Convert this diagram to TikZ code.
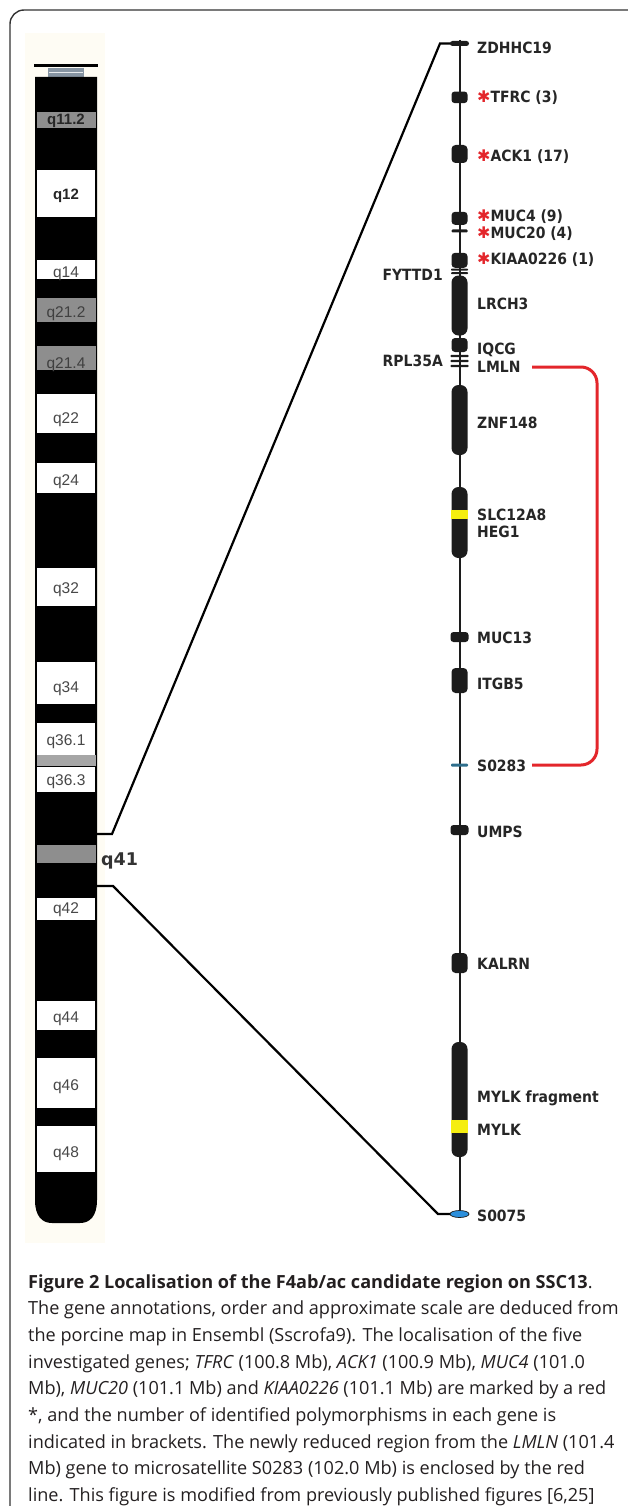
\documentclass[tikz,border=0pt]{standalone}
\usepackage{fontspec}
\usetikzlibrary{shapes.geometric}
\setmainfont{Open Sans}
\newfontfamily\genefont{DejaVu Sans}[FakeStretch=0.9]
\newfontfamily\qfont{DejaVu Sans}
\newfontfamily\bandfont{Liberation Sans}
\definecolor{genetext}{HTML}{262626}
\definecolor{blockc}{HTML}{1C1C1C}
\definecolor{ylw}{HTML}{F5EE10}
\definecolor{sa}{HTML}{2E6E8C}
\definecolor{sb}{HTML}{2B8FDC}
\definecolor{redc}{HTML}{E3262B}
\definecolor{grayband}{HTML}{8E8E8E}
\definecolor{lgrayband}{HTML}{A6A6A6}
\definecolor{cenblue}{HTML}{8795A3}
\definecolor{cream}{HTML}{FEFCF4}
\definecolor{bandtext}{HTML}{484848}
\definecolor{captext}{HTML}{231F20}
\definecolor{framec}{HTML}{333333}
\newcommand{\rstar}{{\color{redc}\qfont\fontsize{16}{16}\selectfont\raisebox{0.3pt}{✱}}}
\begin{document}
\begin{tikzpicture}[x=1pt,y=-1pt,
  gblk/.style n args={3}{rectangle, fill=blockc, draw=none, inner sep=0pt, minimum width=#1, minimum height=#2, rounded corners=#3},
  glab/.style={anchor=base west, inner sep=0pt, text=genetext, font=\genefont\bfseries\fontsize{15.5}{15.5}\selectfont},
  glabl/.style={glab, anchor=base east},
  blab/.style={anchor=base, inner sep=0pt, font=\bandfont\fontsize{15.5}{15.5}\selectfont, text=bandtext},
  bblab/.style={blab, font=\bandfont\bfseries\fontsize{15}{15}\selectfont, text=black!85},
  captline/.style={anchor=base west, inner sep=0pt, text=captext, font=\fontsize{18.1}{18.1}\selectfont},
  zoomline/.style={line width=2.2pt, black},
  redline/.style={line width=3pt, redc, rounded corners=16pt},
  whiteband/.style={fill=white, draw=black, line width=0.6pt},
  grayb/.style={fill=grayband, draw=none}
]
\useasboundingbox (0,0) rectangle (627,1506);
% frame
\draw[framec, line width=1.4pt, rounded corners=14pt] (10,1510) -- (10,10) -- (640,10);
% cream background behind chromosome
\fill[cream] (25,33) rectangle (105,1243);

% ---------- chromosome ----------
\fill[black] (34,64.5) rectangle (98,67.5);
\fill[cenblue] (48,68.5) rectangle (84,77);
\draw[white!80!cenblue, line width=0.8pt] (49,72.7) -- (83,72.7);
\fill[black] (35,77) -- (35,1200) .. controls (35,1216) and (42,1223) .. (52,1223) -- (80,1223) .. controls (90,1223) and (97,1216) .. (97,1200) -- (97,77) -- cycle;
\foreach \a/\b in {169/217, 259/279, 393/433, 462/493, 567/606, 661/704, 722/755, 766/792, 897/920, 1000/1030, 1057/1108, 1125/1172}
  \filldraw[whiteband] (36.5,\a) rectangle (95.5,\b);
\foreach \a/\b in {112/128, 298/322, 346/370, 845/863}
  \fill[grayb] (36.5,\a) rectangle (95.5,\b);
\fill[lgrayband] (36.5,755) rectangle (95.5,766);

% band labels
\node[bblab] (b112) at (66,125) {q11.2};
\node[bblab] (b12) at (66,200) {q12};
\node[blab] (b14) at (66,277.5) {q14};
\node[blab, text=black!75] (b212) at (66,317) {q21.2};
\node[blab, text=black!75] (b214) at (66,368) {q21.4};
\node[blab] (b22) at (66,423) {q22};
\node[blab] (b24) at (66,485) {q24};
\node[blab] (b32) at (66,593) {q32};
\node[blab] (b34) at (66,692) {q34};
\node[blab] (b361) at (66,745) {q36.1};
\node[blab] (b363) at (66,785) {q36.3};
\node[blab] (b42) at (66,913) {q42};
\node[blab] (b44) at (66,1022) {q44};
\node[blab] (b46) at (66,1090) {q46};
\node[blab] (b48) at (66,1157) {q48};
\node[anchor=base west, inner sep=0pt, text=black!80, font=\qfont\bfseries\fontsize{17.5}{17.5}\selectfont] (q41) at (101,865) {q41};

% ---------- gene axis ----------
\coordinate (axtop) at (459.5,40);
\coordinate (axbot) at (459.5,1214);
\draw[line width=2pt, blockc] (axtop) -- (axbot);

% zoom connectors
\coordinate (zu0) at (97,834);
\coordinate (zu1) at (112,834);
\coordinate (zu2) at (440,43.5);
\coordinate (zl0) at (97,886);
\coordinate (zl1) at (113,886);
\coordinate (zl2) at (438,1214);
\coordinate (zdc) at (459.5,43.5);
\coordinate (sbc) at (459.5,1214);
\draw[zoomline] (zu0) -- (zu1) -- (zu2) -- (zdc);
\draw[zoomline] (zl0) -- (zl1) -- (zl2) -- (sbc);

% gene blocks
\node[gblk={19}{5}{2.5pt}] (zdhhc19) at (459.5,43.5) {};
\node[gblk={16}{11.5}{3pt}] (tfrc) at (459.5,97.3) {};
\node[gblk={16}{18}{4pt}] (ack1) at (459.5,154) {};
\node[gblk={16}{13}{3.5pt}] (muc4) at (459.5,218.3) {};
\node[gblk={16}{3}{1pt}] (muc20) at (459.5,231) {};
\node[gblk={16}{15}{3.5pt}] (kiaa) at (459.5,260.3) {};
\node[gblk={17}{2}{0.8pt}] (fyttd1a) at (459.5,269.6) {};
\node[gblk={17}{2}{0.8pt}] (fyttd1b) at (459.5,273.2) {};
\node[gblk={16}{60}{7pt}] (lrch3) at (459.5,305.5) {};
\node[gblk={16}{14}{3.5pt}] (iqcg) at (459.5,345) {};
\node[gblk={18}{2.2}{0.8pt}] (rpl35a) at (459.5,356) {};
\node[gblk={18}{2.2}{0.8pt}] (lmlna) at (459.5,361) {};
\node[gblk={18}{2.2}{0.8pt}] (lmlnb) at (459.5,366) {};
\node[gblk={16}{70}{7pt}] (znf148) at (459.5,420) {};
\node[gblk={16}{71}{7pt}] (slc) at (459.5,522.5) {};
\fill[ylw] (451,510) rectangle (468,518.5);
\node[gblk={18}{10}{3pt}] (muc13) at (459.5,637) {};
\node[gblk={16}{25}{4pt}] (itgb5) at (459.5,680.5) {};
\node[rectangle, fill=sa, inner sep=0pt, minimum width=17, minimum height=3, rounded corners=1pt] (s0283) at (459.5,765) {};
\node[gblk={18}{10}{3pt}] (umps) at (459.5,830) {};
\node[gblk={16}{20}{4pt}] (kalrn) at (459.5,963) {};
\node[gblk={16}{115}{7pt}] (mylk) at (459.5,1099.5) {};
\fill[ylw] (451,1120) rectangle (468,1133);
\node[ellipse, fill=sb, draw=blockc, line width=0.7pt, inner sep=0pt, minimum width=19, minimum height=7] (s0075) at (459.5,1214) {};

% gene labels
\node[glab] (lzdhhc19) at (477,54) {ZDHHC19};
\node[glab] (ltfrc) at (477,103) {\rstar TFRC (3)};
\node[glab] (lack1) at (477,162) {\rstar ACK1 (17)};
\node[glab] (lmuc4) at (477,222) {\rstar MUC4 (9)};
\node[glab] (lmuc20) at (477,238.5) {\rstar MUC20 (4)};
\node[glab] (lkiaa) at (477,265) {\rstar KIAA0226 (1)};
\node[glabl] (lfyttd1) at (443,280) {FYTTD1};
\node[glab] (llrch3) at (477,309) {LRCH3};
\node[glab] (liqcg) at (477,354) {IQCG};
\node[glabl] (lrpl35a) at (443,366.5) {RPL35A};
\node[glab] (llmln) at (477,372.5) {LMLN};
\node[glab] (lznf148) at (477,428) {ZNF148};
\node[glab] (lslc) at (477,520) {SLC12A8};
\node[glab] (lheg1) at (477,537) {HEG1};
\node[glab] (lmuc13) at (477,643) {MUC13};
\node[glab] (litgb5) at (477,689) {ITGB5};
\node[glab] (ls0283) at (477,771.5) {S0283};
\node[glab] (lumps) at (477,837) {UMPS};
\node[glab] (lkalrn) at (477,969) {KALRN};
\node[glab] (lmylkf) at (477,1102) {MYLK fragment};
\node[glab] (lmylk) at (477,1135) {MYLK};
\node[glab] (ls0075) at (477,1221) {S0075};

% red bracket
\coordinate (rb1) at (532,367);
\coordinate (rb2) at (532,765);
\draw[redline] (rb1) -- ++(65,0) |- (rb2);

% caption
\node[captline] (c1) at (28,1288) {\textbf{Figure 2 Localisation of the F4ab/ac candidate region on SSC13}.};
\node[captline] (c2) at (28,1314.7) {The gene annotations, order and approximate scale are deduced from};
\node[captline] (c3) at (28,1341.4) {the porcine map in Ensembl (Sscrofa9). The localisation of the five};
\node[captline] (c4) at (28,1368.1) {investigated genes; \textit{TFRC} (100.8 Mb), \textit{ACK1} (100.9 Mb), \textit{MUC4} (101.0};
\node[captline] (c5) at (28,1394.8) {Mb), \textit{MUC20} (101.1 Mb) and \textit{KIAA0226} (101.1 Mb) are marked by a red};
\node[captline] (c6) at (28,1421.5) {*, and the number of identified polymorphisms in each gene is};
\node[captline] (c7) at (28,1448.2) {indicated in brackets. The newly reduced region from the \textit{LMLN} (101.4};
\node[captline] (c8) at (28,1474.9) {Mb) gene to microsatellite S0283 (102.0 Mb) is enclosed by the red};
\node[captline] (c9) at (28,1501.6) {line. This figure is modified from previously published figures [6,25]};
\end{tikzpicture}
\end{document}
